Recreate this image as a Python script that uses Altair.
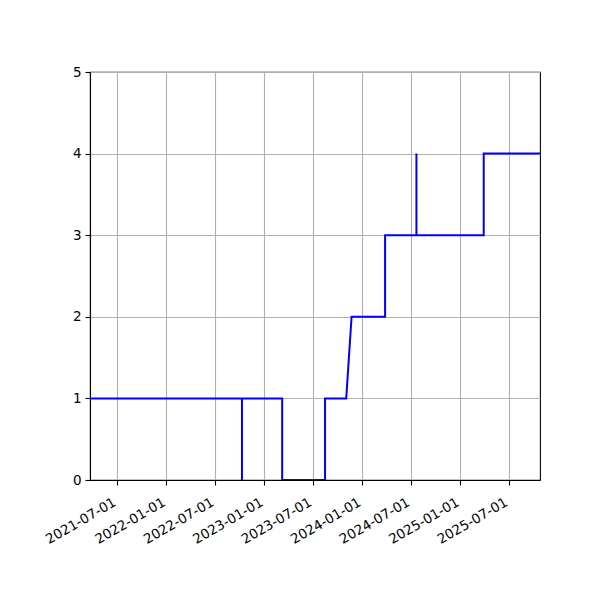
import altair as alt
import pandas as pd

# step series (repeated dates = vertical jumps)
dates = [
    "2021-03-22", "2022-10-10", "2022-10-10", "2022-10-10",
    "2023-03-09", "2023-03-09", "2023-08-16", "2023-08-16",
    "2023-11-03", "2023-11-23", "2024-03-27", "2024-03-27",
    "2024-07-22", "2024-07-22", "2024-07-22", "2025-03-30",
    "2025-03-30", "2025-10-26",
]
values = [1, 1, 0, 1, 1, 0, 0, 1, 1, 2, 2, 3, 3, 4, 3, 3, 4, 4]
tick_dates = [
    (2021, 7), (2022, 1), (2022, 7), (2023, 1), (2023, 7),
    (2024, 1), (2024, 7), (2025, 1), (2025, 7),
]
y_ticks = [0, 1, 2, 3, 4, 5]

data = pd.DataFrame({"date": dates, "value": values, "order": range(len(dates))})

font = "DejaVu Sans"

chart = (
    alt.Chart(data)
    .mark_line(color="blue", strokeWidth=2, clip=True)
    .encode(
        x=alt.X(
            "date:T",
            title=None,
            scale=alt.Scale(
                type="utc",
                domain=[
                    alt.DateTime(year=2021, month=3, date=22, utc=True),
                    alt.DateTime(year=2025, month=10, date=26, utc=True),
                ],
            ),
            axis=alt.Axis(
                values=[alt.DateTime(year=y, month=m, date=1, utc=True) for y, m in tick_dates],
                format="%Y-%m-%d",
                labelAngle=-30,
                labelAlign="right",
                labelBaseline="top",
                labelPadding=10,
                labelOffset=-6,
                labelOverlap=False,
            ),
        ),
        y=alt.Y(
            "value:Q",
            title=None,
            scale=alt.Scale(domain=[0, 5], nice=False),
            axis=alt.Axis(values=y_ticks, format="d", labelPadding=4),
        ),
        order="order:Q",
    )
    .properties(
        width=450,
        height=408,
        autosize=alt.AutoSizeParams(type="none"),
        padding={"left": 82, "top": 64, "right": 52, "bottom": 104},
    )
    .configure_view(stroke="black", strokeWidth=1.1)
    .configure_axis(
        grid=True,
        gridColor="#b0b0b0",
        gridWidth=1.1,
        domainColor="black",
        domainWidth=1.1,
        tickColor="black",
        tickWidth=1.1,
        tickSize=5,
        labelFont=font,
        labelFontSize=13.5,
        labelColor="black",
    )
)

chart.save("out.html", embed_options={"renderer": "svg", "actions": False})
